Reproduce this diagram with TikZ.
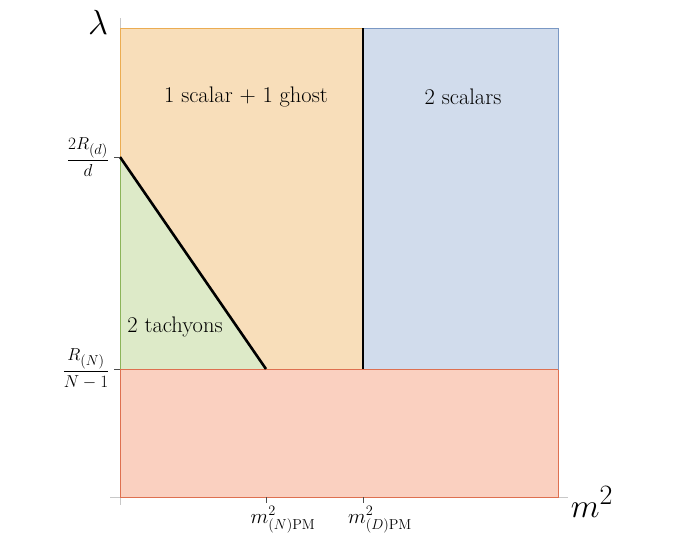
\documentclass[tikz,border=0pt]{standalone}
\usepackage{amsmath}
\usepackage{graphicx}
\definecolor{orfill}{RGB}{248,222,186}
\definecolor{ordraw}{RGB}{235,172,82}
\definecolor{blfill}{RGB}{209,220,236}
\definecolor{bldraw}{RGB}{122,152,196}
\definecolor{grfill}{RGB}{221,234,200}
\definecolor{grdraw}{RGB}{140,180,90}
\definecolor{rdfill}{RGB}{250,208,192}
\definecolor{rddraw}{RGB}{222,112,80}
\definecolor{axgray}{RGB}{200,200,200}
\begin{document}
\begin{tikzpicture}[x=1pt,y=-1pt,
  region/.style={line width=1pt},
  bound/.style={line width=2.6pt, black},
  axis/.style={axgray, line width=0.8pt},
  tick/.style={line width=0.8pt, black!70},
  lab/.style={font=\fontsize{22.5}{27}\selectfont, inner sep=0pt},
  ylab/.style={font=\fontsize{19}{23}\selectfont, inner sep=0pt},
  xlab/.style={font=\fontsize{22}{26}\selectfont, inner sep=0pt},
  big/.style={font=\Huge, inner sep=0pt}]
\useasboundingbox (0,0) rectangle (692,554);
% coordinates
\coordinate (TL) at (120,28);
\coordinate (TM) at (363,28);
\coordinate (TR) at (558,28);
\coordinate (A) at (120,157);
\coordinate (ML) at (120,369);
\coordinate (P) at (266,369);
\coordinate (MM) at (363,369);
\coordinate (MR) at (558,369);
\coordinate (BL) at (120,497);
\coordinate (BR) at (558,497);
% axes
\draw[axis] (120,18) -- (120,505);
\draw[axis] (110,497) -- (568,497);
% regions
\filldraw[region, fill=rdfill, draw=rddraw] (ML) rectangle (BR);
\filldraw[region, fill=blfill, draw=bldraw] (TM) rectangle (MR);
\fill[orfill] (TL) -- (TM) -- (MM) -- (P) -- (A) -- cycle;
\draw[region, ordraw] (A) -- (TL) -- (TM);
\fill[grfill] (A) -- (ML) -- (P) -- cycle;
\draw[region, grdraw] (A) -- (ML);
\draw[region, rddraw] (ML) -- (MR);
% boundaries
\draw[bound] (A) -- (P);
\draw[bound] (TM) -- (MM);
% ticks
\draw[tick] (114,157) -- (A);
\draw[tick] (114,369) -- (ML);
\draw[tick] (266,497) -- (266,503);
\draw[tick] (363,497) -- (363,503);
% labels
\node[lab] (t1) at (246,97) {1 scalar + 1 ghost};
\node[lab] (t2) at (463,97) {2 scalars};
\node[lab] (t3) at (175,327) {2 tachyons};
\node[ylab] (y1) at (88,157) {$\dfrac{2R_{(d)}}{d}$};
\node[ylab] (y2) at (86,369) {$\dfrac{R_{(N)}}{N-1}$};
\node[xlab] (x1) at (283,520) {$m^2_{(N)\mathrm{PM}}$};
\node[xlab] (x2) at (380,520) {$m^2_{(D)\mathrm{PM}}$};
\node[big] (lam) at (98,22) {\scalebox{1.4}{$\lambda$}};
\node[big] (msq) at (592,502) {\scalebox{1.35}{$m^2$}};
\end{tikzpicture}
\end{document}
